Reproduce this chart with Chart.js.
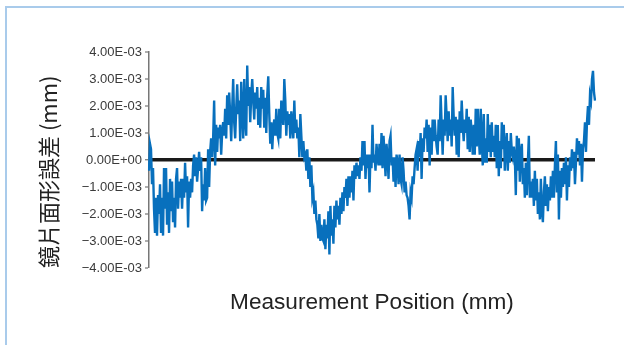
<!DOCTYPE html>
<html>
<head>
<meta charset="utf-8">
<script src="https://cdn.jsdelivr.net/npm/chart.js@4/dist/chart.umd.min.js"></script>
<style>
    body { margin: 0; background: #fff; }
    #frame {
        position: absolute; left: 5px; top: 6px; right: 0; bottom: 0;
        border-top: 2px solid #a9cbeb; border-left: 2px solid #a9cbeb;
    }
    #wrap { position: absolute; left: 0; top: 0; width: 624px; height: 345px; }
</style>
</head>
<body>
<div id="frame"></div>
<div id="wrap"><canvas id="myChart" width="624" height="345"></canvas></div>
<script>
// Mirror surface error, in units of 1E-03 mm left to right
const surfaceError = [
    // first trough
    -0.4, 0.6, 0.4, -0.9, -0.3, -1.8, -2.7, -1.4, -2.8, -1.3, -2.0, -0.9, -2.7, -1.4, -2.8, -0.3,
    -1.8, -0.3, -2.4, -1.2, -2.7, -0.7, -1.9, -0.8, -2.3, -1.4, -2.5, -0.7, -0.3, -1.8, -0.8, -1.4,
    -0.7, -1.8, -0.7, -1.4, -0.1, -1.2, -0.6, -2.5, -0.8, -1.4, -0.7, -1.2, -0.2, 0.2, -0.6, 0.1,
    -0.8, -0.3, 0.3, -0.4, 0.1, -1.9, -0.9, -1.5, -0.3,
    // rise to first crest
    -1.5, -1.4, 0.4, -1.0, 0.3, 0.8, 0.1, 0.8, 2.2, -0.2, 1.3, 0.3, 1.2, 0.8, 1.3, 0.2,
    1.0, 1.4, 0.9, 1.9, 0.8, 2.4, 1.3, 2.5, 1.7, 0.7, 1.9, 3.0, 1.4, 0.8, 1.9, 2.8,
    1.7, 2.2, 0.7, 2.9, 1.8, 0.8, 3.0, 1.5, 0.9, 3.5, 2.0, 2.7, 1.4, 2.4, 3.0, 2.2,
    1.5, 2.5, 1.9, 2.7, 1.3, 2.3, 1.2, 2.7, 1.9,
    // crest and fall
    2.6, 1.2, 2.3, 1.0, 2.4, 3.1, 1.7, 0.6, 1.4, 0.4, 1.2, 1.5, 0.9, 1.9, 1.0, 0.8,
    1.9, 0.8, 2.2, 1.7, 1.3, 3.0, 2.2, 0.9, 1.8, 1.3, 1.7, 0.8, 1.8, 1.3, 0.8, 2.2,
    1.0, 1.5, 0.8, 1.2, 0.1, 1.7, 0.9, 0.1, 0.7, 0.1, 0.2, -0.4, 0.4, -0.7, 0.1, -1.0,
    -0.2, -1.4, -1.2, -2.0, -1.5, -2.2, -2.4, -2.9, -2.0, -3.0,
    // deep trough and recovery
    -2.4, -2.9, -3.0, -2.2, -3.3, -2.4, -2.9, -1.9, -3.5, -1.7, -2.8, -2.2, -3.1, -1.7, -2.5, -1.5,
    -2.2, -1.7, -2.4, -1.4, -2.0, -1.2, -1.9, -1.0, -1.4, -0.7, -1.7, -0.6, -1.4, -0.6, -1.2, -0.4,
    -1.5, -0.2, -0.7, -0.1, -0.6, -0.2, -0.7, 0.1, -0.4, 0.7, -0.2, 0.7, -0.7, 0.2, -0.3, 0.2,
    -1.2, 0.2, -0.3, 1.3, -0.1, 0.2, -0.4, 0.6, 0.1, -0.2,
    // flat part with the small dip
    0.6, -0.2, 1.0, -0.3, 0.9, 0.2, -0.6, 0.6, 0.1, -0.7, 0.7, 0.9, -0.2, 0.1, -0.8, 0.1,
    -1.0, 0.2, -0.1, -0.9, 0.2, -0.7, -0.9, 0.1, -0.4, -1.2, -0.8, -1.3, -1.4, -1.7, -2.2, -1.2,
    -1.4, -0.6, -0.9, -0.3, 0.2, 0.4, -0.4, 0.7, 0.1, 1.0, -0.7, 0.8, 0.3, 1.2, 0.8, 1.5,
    0.3, 1.3, -0.2, 1.2, 0.2, 1.5, 0.7, 1.5, 0.9,
    // second crest
    0.5, 0.2, 1.5, 0.7, 2.4, 1.3, 0.2, 1.5, 0.9, 2.4, 1.6, 0.7, 1.8, 0.9, 1.5, 0.5,
    2.7, 1.6, 0.9, 1.6, 0.2, 1.5, 0.1, 1.8, 1.0, 2.2, 1.3, 0.7, 1.5, 1.0, 1.9, 0.4,
    1.6, 0.3, 1.5, 1.0, 0.2, 1.3, 0.2, 1.9, 0.5, 1.9, 0.9, 0.2, 1.9, 0.7, -0.2, 1.7,
    -0.1, 0.8, -0.1, 1.7, 0.3, 1.3, 0.1, 1.4, 0.3, 0.9,
    // decline into the last trough
    0.1, 1.3, -0.3, 1.3, -0.6, 0.7, -0.3, 1.4, 0.4, 1.3, -0.4, 0.5, 1.0, -0.4, 0.7, -0.1,
    1.0, 0.3, 0.1, 0.5, 0.1, -1.3, 0.9, -0.4, 0.8, -0.8, 0.3, 0.6, -0.9, -0.3, -1.4, -0.1,
    -1.3, -0.1, 0.9, -1.4, -0.8, -1.4, -0.7, -1.7, -0.4, -1.5, -0.7, -2.0, -1.2, -2.2, -0.7, -1.9,
    -2.3, -1.2, -0.6, -1.7, -0.9, -1.9, -1.0, -1.5, -0.6, -1.4,
    // last trough and the steep rise at the end
    -0.4, -1.4, -0.2, 0.7, -1.2, 0.2, -2.2, -0.4, -1.4, -0.3, -1.0, -0.1, -0.9, 0.1, -1.5, -0.2,
    -1.0, 0.1, -0.4, 0.4, -0.3, 0.3, -0.9, -0.1, 0.8, 0.2, 0.7, -0.2, 0.6, -0.8, 0.4, 0.7,
    1.4, 0.3, 1.4, 2.0, 1.3, 2.4, 2.2, 3.0, 3.3, 2.5, 2.2
];

// Measurement positions are just sample indices (the x axis has no tick labels)
const positions = surfaceError.map((v, i) => i);

// Y axis ticks and the labels printed next to them
const yTickValues = [4, 3, 2, 1, 0, -1, -2, -3, -4];
const yTickLabels = ['4.00E-03', '3.00E-03', '2.00E-03', '1.00E-03', '0.00E+00',
    '\u22121.00E-03', '\u22122.00E-03', '\u22123.00E-03', '\u22124.00E-03'];

const ctx = document.getElementById('myChart').getContext('2d');

new Chart(ctx, {
    type: 'line',
    data: {
        labels: positions,
        datasets: [{
            label: '鏡片面形誤差',
            data: surfaceError,
            borderColor: '#0870bd',
            borderWidth: 2.4,
            pointRadius: 0,
            tension: 0,
            fill: false
        }]
    },
    options: {
        responsive: false,
        animation: false,
        layout: {
            padding: { left: 0, right: 29, top: 52, bottom: 0 }
        },
        plugins: {
            legend: { display: false },
            tooltip: { enabled: false }
        },
        scales: {
            x: {
                type: 'category',
                grid: { display: false },
                border: { display: false },
                ticks: { display: false },
                title: {
                    display: true,
                    text: 'Measurement Position (mm)',
                    color: '#222',
                    font: { family: 'Liberation Sans', size: 22.6 },
                    padding: { top: 0, bottom: 28.5 }
                },
                afterFit: scale => { scale.height = 77; }
            },
            y: {
                min: -4,
                max: 4,
                ticks: {
                    stepSize: 1,
                    padding: 3,
                    color: '#3a3a3a',
                    font: { family: 'Liberation Sans', size: 13 },
                    callback: v => yTickLabels[yTickValues.indexOf(v)]
                },
                grid: {
                    // only the zero line is drawn across the plot
                    color: c => c.tick && c.tick.value === 0 ? '#1a1a1a' : 'rgba(0,0,0,0)',
                    lineWidth: c => c.tick && c.tick.value === 0 ? 3.5 : 0,
                    tickColor: '#777',
                    tickLength: 4,
                    tickWidth: 1.2
                },
                border: { display: true, color: '#777', width: 1.5 },
                title: {
                    display: true,
                    text: '鏡片面形誤差 (mm)',
                    align: 'start',
                    color: '#222',
                    font: { family: 'Noto Sans CJK TC', size: 22 },
                    padding: { top: 35, bottom: 0 }
                },
                afterFit: scale => { scale.width = 149; }
            }
        }
    }
});
</script>
</body>
</html>
